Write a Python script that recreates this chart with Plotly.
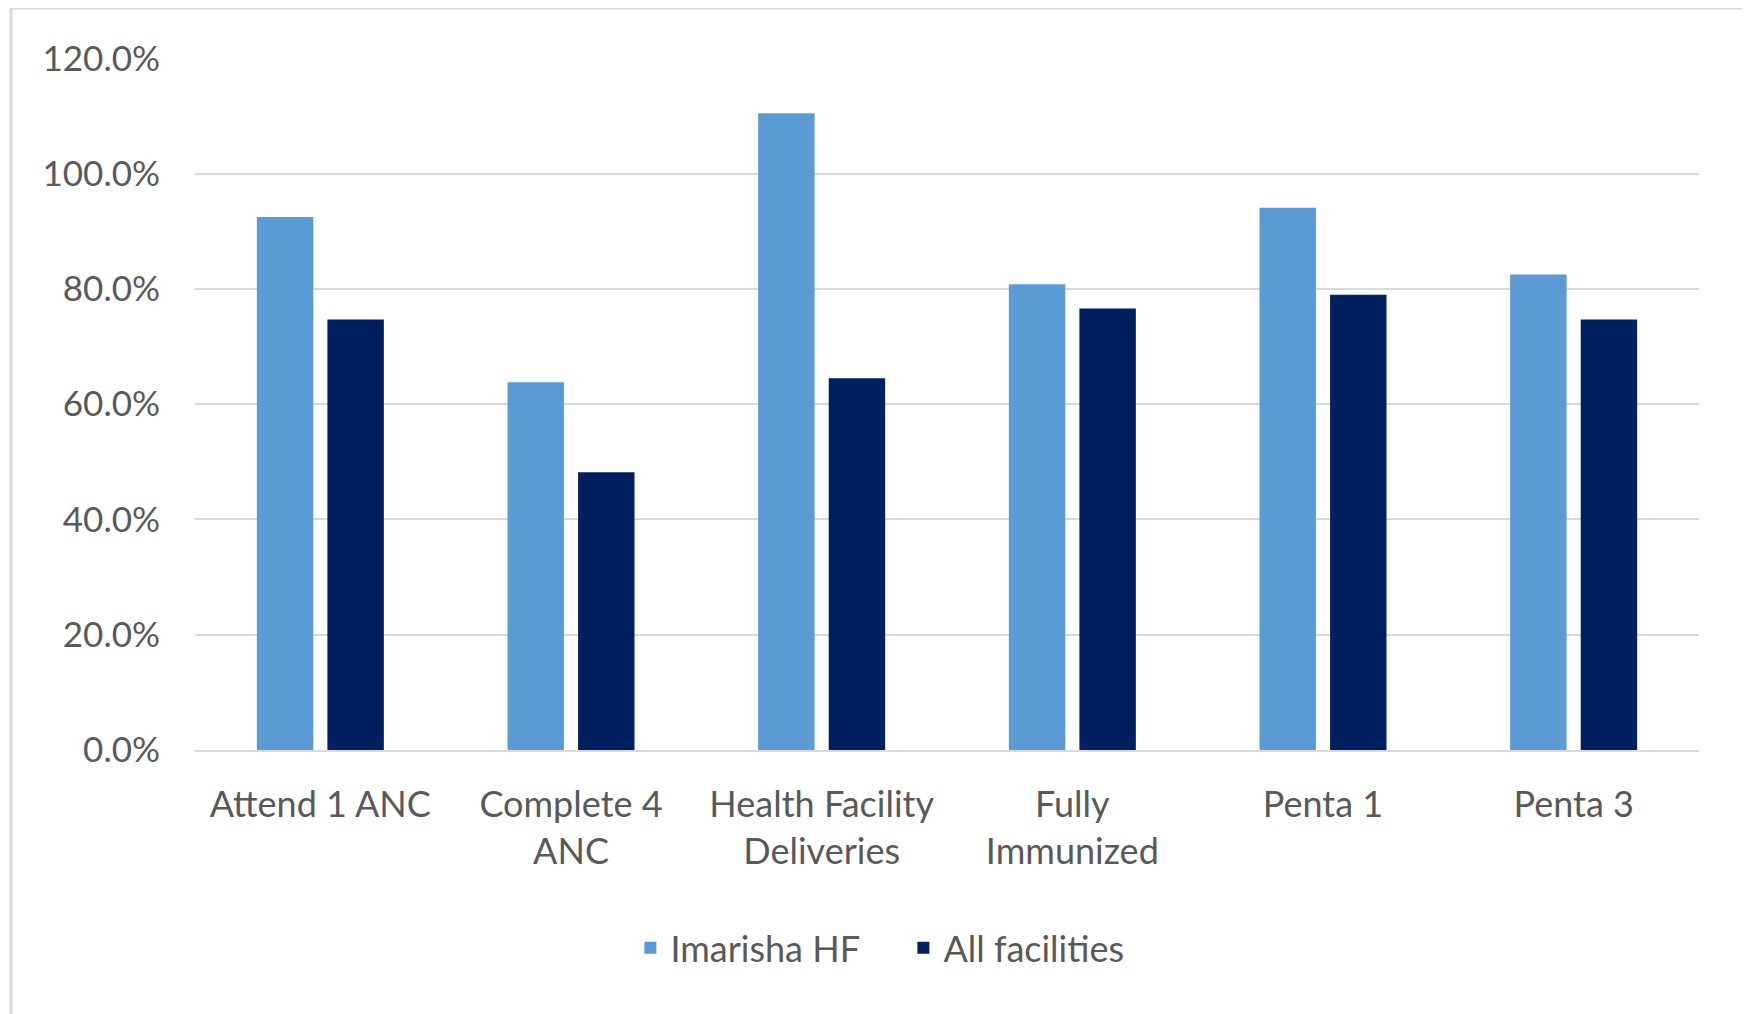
import plotly.graph_objects as go

categories = ["Attend 1 ANC", "Complete 4<br>ANC", "Health Facility<br>Deliveries",
              "Fully<br>Immunized", "Penta 1", "Penta 3"]
imarisha_hf = [0.925, 0.638, 1.105, 0.808, 0.941, 0.825]
all_facilities = [0.747, 0.482, 0.645, 0.766, 0.790, 0.747]
y_ticks = [0, 0.2, 0.4, 0.6, 0.8, 1.0, 1.2]

FONT = "Lato"
TXT = "#595959"

fig = go.Figure()
fig.add_trace(go.Bar(name="Imarisha HF", x=categories, y=imarisha_hf,
                     marker=dict(color="#5B9BD5", line=dict(width=0))))
fig.add_trace(go.Bar(name="All facilities", x=categories, y=all_facilities,
                     marker=dict(color="#002060", line=dict(width=0))))

fig.update_layout(
    width=1750, height=1014,
    margin=dict(l=187, r=59, t=50, b=272, autoexpand=False),
    paper_bgcolor="white", plot_bgcolor="white",
    barmode="group", bargap=0.437, bargroupgap=0.2,
    font=dict(family=FONT, size=36, color=TXT),
    showlegend=True,
    legend=dict(orientation="h", x=0.471, xanchor="center", y=-0.286, yanchor="middle",
                font=dict(family=FONT, size=36, color=TXT), itemwidth=30,
                entrywidth=228, entrywidthmode="pixels",
                bgcolor="rgba(0,0,0,0)"),
    shapes=[dict(type="rect", xref="paper", yref="paper",
                 x0=-0.1223, x1=1.0306, y0=-0.45, y1=1.0723,
                 line=dict(color="#D9D9D9", width=3), fillcolor="rgba(0,0,0,0)", layer="below")],
)
fig.update_xaxes(showgrid=False, showline=True, linecolor="#D9D9D9", linewidth=2,
                 ticks="", tickfont=dict(family=FONT, size=36, color=TXT),
                 ticklabelstandoff=22, fixedrange=True)
fig.update_yaxes(range=[0, 1.2008], tickvals=y_ticks, tickformat=".1%",
                 showgrid=True, gridcolor="#D9D9D9", gridwidth=2,
                 zeroline=False, showline=False, ticks="",
                 tickfont=dict(family=FONT, size=35, color=TXT),
                 ticklabelstandoff=34, fixedrange=True)

fig.write_html("out.html")
